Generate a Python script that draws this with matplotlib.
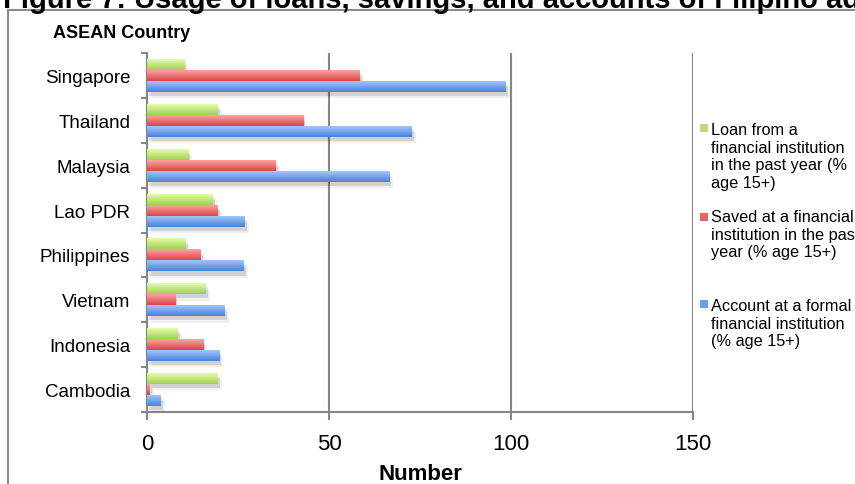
import numpy as np
import matplotlib
matplotlib.use("Agg")
import matplotlib.pyplot as plt
from matplotlib.patches import Rectangle
import matplotlib.patheffects as pe
from matplotlib.colors import to_rgb

plt.rcParams['font.family'] = ['Liberation Sans', 'DejaVu Sans']

countries = ["Singapore", "Thailand", "Malaysia", "Lao PDR", "Philippines",
             "Vietnam", "Indonesia", "Cambodia"]
loan = [10.2, 19.5, 11.3, 18.1, 10.7, 16.2, 8.5, 19.5]
saved = [58.5, 42.9, 35.4, 19.5, 14.8, 7.7, 15.4, 0.8]
account = [98.6, 72.8, 66.5, 26.9, 26.6, 21.4, 19.8, 3.7]
xticks = [0, 50, 100, 150]

series = [
    ("Loan from a\nfinancial institution\nin the past year (%\nage 15+)", loan,
     "#e2ffa6", "#a3cd55", "#b9e07a"),
    ("Saved at a financial\ninstitution in the past\nyear (% age 15+)", saved,
     "#ffa3a3", "#d84646", "#e86565"),
    ("Account at a formal\nfinancial institution\n(% age 15+)", account,
     "#9fc6ff", "#4a82d3", "#6c9fe8"),
]

W, H = 855, 485
fig = plt.figure(figsize=(W / 100, H / 100), dpi=100)

def fx(px):
    return px / W

def fy(py):
    return 1 - py / H

ax = fig.add_axes([fx(147), fy(413), fx(693) - fx(147), (413 - 54) / H])

n = len(countries)
ypos = np.arange(n)[::-1]
bh = 0.245
offsets = [bh, 0.0, -bh]

for (label, vals, ctop, cbot, cmid), off in zip(series, offsets):
    bars = ax.barh(ypos + off, vals, height=bh, color=cmid, zorder=3,
                   path_effects=[pe.SimplePatchShadow(offset=(1.5, -3), alpha=0.12,
                                                      shadow_rgbFace='k'),
                                 pe.SimplePatchShadow(offset=(3, -4.5), alpha=0.06,
                                                      shadow_rgbFace='k'),
                                 pe.Normal()])
    grad = np.linspace(0, 1, 64)[:, None, None]
    img = (1 - grad) * np.array(to_rgb(cbot)) + grad * np.array(to_rgb(ctop))
    for b in bars:
        x0, y0, w, h = b.get_x(), b.get_y(), b.get_width(), b.get_height()
        im = ax.imshow(img, extent=(x0, x0 + w, y0, y0 + h), origin='lower',
                       aspect='auto', zorder=4, interpolation='bilinear')
        im.set_clip_path(b)

ax.set_xlim(0, 150)
ax.set_ylim(-0.5, n - 0.5)
ax.set_xticks(xticks)
ax.set_xticklabels([str(t) for t in xticks], fontsize=16)
ax.set_yticks(ypos)
ax.set_yticklabels(countries, fontsize=13.5)
ax.set_yticks(np.arange(-0.5, n, 1.0), minor=True)

gray = "#868686"
ax.grid(axis='x', which='major', color=gray, linewidth=1.5, zorder=1)
ax.set_axisbelow(True)
for s in ["top", "right"]:
    ax.spines[s].set_visible(False)
for s in ["left", "bottom"]:
    ax.spines[s].set_color(gray)
    ax.spines[s].set_linewidth(1.5)
ax.tick_params(axis='y', which='major', length=0, pad=12)
ax.tick_params(axis='y', which='minor', length=4, width=1.5, color=gray, direction='out')
ax.tick_params(axis='x', which='major', length=6, width=1.5, color=gray, pad=9)

# chart frame
fig.patches.append(Rectangle((fx(8), fy(1000)), 2, fy(11) - fy(1000),
                             transform=fig.transFigure, fill=False,
                             edgecolor="#8c8c8c", linewidth=1.5))

# title (cropped at top)
fig.text(fx(3), fy(7.5), "Figure 7: Usage of loans, savings, and accounts of Filipino adults",
         fontsize=21, fontweight='bold', va='baseline', ha='left')
fig.text(fx(53), fy(38), "ASEAN Country", fontsize=13, fontweight='bold',
         va='baseline', ha='left')
fig.text(fx(420), fy(480), "Number", fontsize=16, fontweight='bold',
         va='baseline', ha='center')

# legend
leg_pos = [(125, 135), (214, 222), (301, 311)]
line_h = 17.7
for (label, vals, ctop, cbot, cmid), (my, by) in zip(series, leg_pos):
    fig.patches.append(Rectangle((fx(700), fy(my + 8)), 8 / W, 8 / H,
                                 transform=fig.transFigure, facecolor=cmid,
                                 edgecolor='none'))
    for k, line in enumerate(label.split("\n")):
        fig.text(fx(711), fy(by + k * line_h), line, fontsize=11.7,
                 va='baseline', ha='left')

fig.savefig("out.png", dpi=100)
